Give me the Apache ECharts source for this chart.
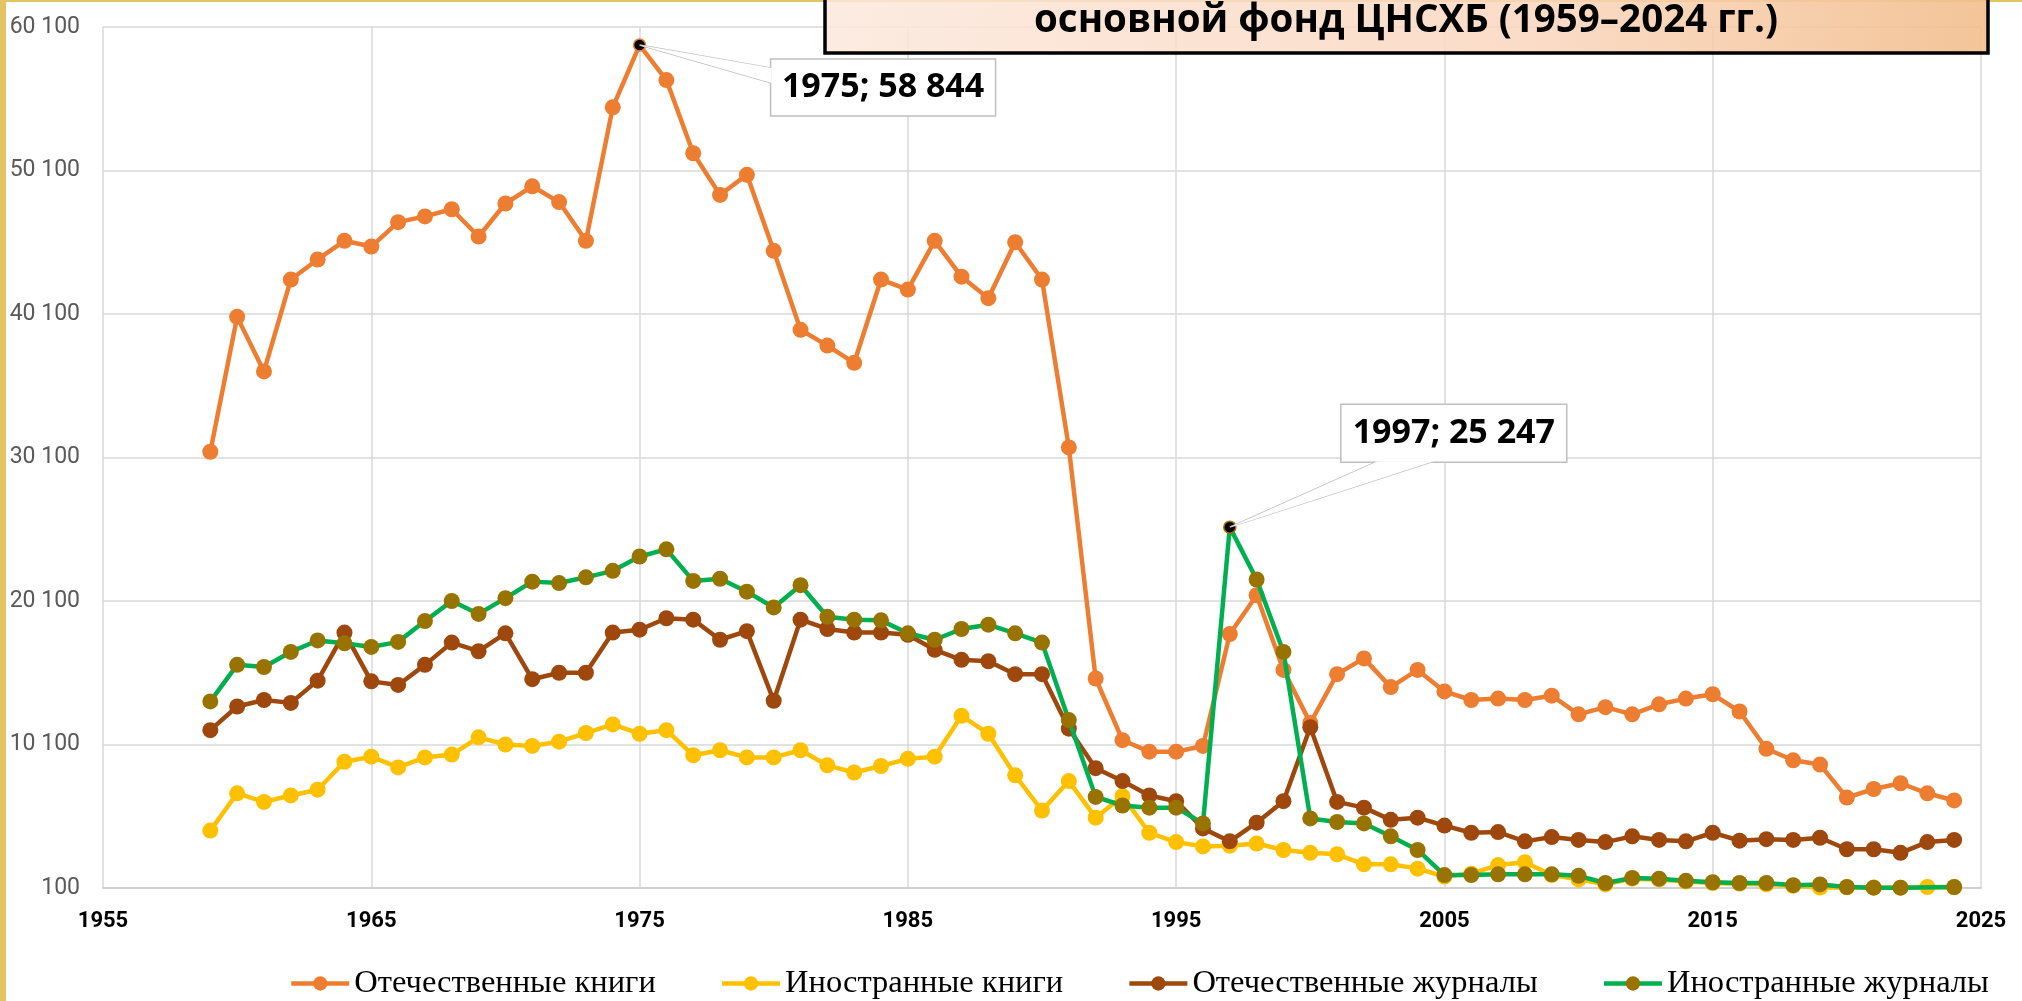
<!DOCTYPE html>
<html>
<head>
<meta charset="utf-8">
<script src="https://cdn.jsdelivr.net/npm/echarts@6/dist/echarts.min.js"></script>
<style>
  html, body { margin: 0; padding: 0; background: #fff; }
  #chart { width: 2022px; height: 1001px; }
</style>
</head>
<body>
<div id="chart"></div>
<script>
// годы 1959-2024
var years = [];
for (var y = 1959; y <= 2024; y++) years.push(y);

var seriesNames = ['Отечественные книги', 'Иностранные книги', 'Отечественные журналы', 'Иностранные журналы'];

var domBooks = [
    30500, 39900, 36100, 42500, 43900, 45200, 44800, 46500, 46900, 47400, 45500,
    47800, 49000, 47900, 45200, 54500, 58844, 56400, 51300, 48400, 49800,
    44500, 39000, 37900, 36700, 42500, 41800, 45200, 42700, 41200, 45100,
    42500, 30800, 14700, 10400, 9600, 9600, 10000, 17800, 20500, 15300,
    11600, 15000, 16100, 14100, 15300, 13800, 13200, 13300, 13200, 13500,
    12200, 12700, 12200, 12900, 13300, 13600, 12400, 9800, 9000, 8700,
    6400, 7000, 7400, 6700, 6200
];

var forBooks = [
    4100, 6700, 6100, 6550, 6950, 8900, 9250, 8500, 9200, 9400, 10600,
    10100, 10000, 10300, 10900, 11500, 10850, 11100, 9350, 9700, 9200,
    9200, 9700, 8650, 8150, 8600, 9100, 9250, 12100, 10850, 7950,
    5500, 7550, 5000, 6500, 3950, 3300, 3000, 3050, 3200, 2750,
    2550, 2450, 1750, 1750, 1450, 900, 1100, 1700, 1900, 1000,
    700, 350, 750, 700, 550, 450, 400, 350, 250, 130,
    150, 130, 120, 170, 150
];

var domJournals = [
    11100, 12750, 13200, 13000, 14550, 17900, 14500, 14250, 15650, 17200, 16600,
    17850, 14650, 15100, 15100, 17900, 18100, 18900, 18800, 17400, 18000,
    13150, 18800, 18150, 17900, 17900, 17750, 16700, 16000, 15900, 15000,
    15000, 11200, 8450, 7550, 6550, 6150, 4250, 3350, 4650, 6150,
    11300, 6100, 5700, 4850, 5000, 4450, 3950, 4000, 3350, 3650,
    3450, 3300, 3700, 3450, 3350, 3950, 3400, 3500, 3450, 3600,
    2800, 2800, 2550, 3300, 3450
];

// 2023 - нет значения
var forJournals = [
    13100, 15650, 15500, 16550, 17350, 17150, 16900, 17250, 18700, 20100, 19200,
    20300, 21450, 21350, 21750, 22200, 23200, 23700, 21500, 21650, 20750,
    19650, 21200, 19000, 18800, 18750, 17850, 17400, 18150, 18450, 17850,
    17200, 11800, 6450, 5850, 5700, 5700, 4600, 25247, 21600, 16550,
    4950, 4700, 4600, 3700, 2750, 1000, 1000, 1050, 1050, 1050,
    950, 450, 800, 750, 600, 500, 450, 450, 300, 350,
    170, 120, 120, null, 170
];

var xTicks = { min: 1955, max: 2025, step: 10 };
var yTicks = { min: 100, max: 60100, step: 10000 };

// выделенные точки с выносками
var callouts = [
    { year: 1975, series: 0, text: '1975; 58 844' },
    { year: 1997, series: 3, text: '1997; 25 247' }
];

var lineColors = ['#ED7D31', '#FFC000', '#9E480E', '#00B050'];
var markColors = ['#ED7D31', '#FFC000', '#9E480E', '#997300'];
var allData = [domBooks, forBooks, domJournals, forJournals];

function fmt(v) {
    return String(v).replace(/\B(?=(\d{3})+(?!\d))/g, ' ');
}

function makeData(idx) {
    var arr = allData[idx];
    return years.map(function (yr, i) {
        var item = { value: [yr, arr[i]] };
        callouts.forEach(function (c) {
            if (c.series === idx && c.year === yr) {
                item.itemStyle = { color: '#000', borderColor: markColors[idx], borderWidth: 1.5 };
                item.symbolSize = 12;
            }
        });
        return item;
    });
}

var myChart = echarts.init(document.getElementById('chart'));

var series = seriesNames.map(function (name, i) {
    return {
        name: name,
        type: 'line',
        data: makeData(i),
        connectNulls: true,
        symbol: 'circle',
        symbolSize: 16,
        showAllSymbol: true,
        lineStyle: { color: lineColors[i], width: 4.5 },
        itemStyle: { color: markColors[i] },
        emphasis: { disabled: true },
        z: 2 + i
    };
});

var option = {
    animation: false,
    backgroundColor: '#fff',
    grid: { left: 103, right: 41, top: 27, bottom: 113 },
    legend: {
        left: 284,
        top: 962,
        width: 1800,
        itemWidth: 58,
        itemHeight: 18,
        itemGap: 64,
        lineStyle: { width: 4.5 },
        textStyle: { fontFamily: 'Liberation Serif', fontSize: 32.5, color: '#000' },
        data: seriesNames
    },
    xAxis: {
        type: 'value',
        min: xTicks.min,
        max: xTicks.max,
        interval: xTicks.step,
        axisLine: { show: true, lineStyle: { color: '#d0d0d0', width: 2 } },
        axisTick: { show: false },
        splitLine: { show: true, lineStyle: { color: '#d9d9d9', width: 1.5 } },
        axisLabel: {
            fontFamily: 'Roboto', fontWeight: 'bold', fontSize: 22, color: '#000',
            margin: 22,
            formatter: function (v) { return String(v); }
        }
    },
    yAxis: {
        type: 'value',
        min: yTicks.min,
        max: yTicks.max,
        interval: yTicks.step,
        axisLine: { show: false },
        axisTick: { show: false },
        splitLine: { show: true, lineStyle: { color: '#d9d9d9', width: 1.5 } },
        axisLabel: {
            fontFamily: 'Roboto', fontSize: 23, color: '#595959', margin: 23,
            formatter: fmt
        }
    },
    series: series
};

myChart.setOption(option);

// рамка, заголовок и выноски
function buildGraphics() {
    var els = [];
    // золотая кромка слева и сверху
    els.push({ type: 'rect', shape: { x: 0, y: 0, width: 6, height: 1001 }, style: { fill: '#E3C465' }, z: 100 });
    els.push({ type: 'rect', shape: { x: 0, y: 0, width: 2022, height: 2 }, style: { fill: '#E3C465' }, z: 100 });

    // плашка заголовка
    els.push({
        type: 'rect',
        shape: { x: 825, y: -10, width: 1163, height: 63 },
        style: {
            fill: new echarts.graphic.LinearGradient(0, 0, 1, 1, [
                { offset: 0, color: 'rgba(252,232,220,0.85)' },
                { offset: 0.6, color: 'rgba(250,214,190,0.85)' },
                { offset: 1, color: 'rgba(242,190,140,0.9)' }
            ]),
            stroke: '#000',
            lineWidth: 3.5
        },
        z: 100
    });
    els.push({
        type: 'text',
        x: 1406, y: 21,
        style: {
            text: 'основной фонд ЦНСХБ (1959–2024 гг.)',
            fontFamily: 'Open Sans', fontWeight: 'bold', fontSize: 38.5,
            fill: '#000', align: 'center', verticalAlign: 'middle'
        },
        z: 101
    });

    callouts.forEach(function (c, k) {
        var i = years.indexOf(c.year);
        var p = myChart.convertToPixel({ gridIndex: 0 }, [c.year, allData[c.series][i]]);
        var bx, by, bw, bh, wedge;
        if (k === 0) {
            bx = p[0] + 131; by = p[1] + 14; bw = 225; bh = 57;
            wedge = [[p[0], p[1]], [bx + 1, by + 9], [bx + 1, by + 24]];
        } else {
            bx = p[0] + 111; by = p[1] - 123; bw = 226; bh = 58;
            wedge = [[p[0], p[1]], [bx + 37, by + bh - 1], [bx + 93, by + bh - 1]];
        }
        els.push({
            type: 'polygon', shape: { points: wedge },
            style: { fill: '#fff', stroke: '#bfbfbf', lineWidth: 1.5 }, z: 90
        });
        els.push({
            type: 'rect', shape: { x: bx, y: by, width: bw, height: bh },
            style: { fill: '#fff', stroke: '#bfbfbf', lineWidth: 1.5 }, z: 91
        });
        // перекрыть шов между выноской и рамкой
        els.push({
            type: 'polygon', shape: { points: wedge },
            style: { fill: '#fff', stroke: null }, z: 92
        });
        els.push({
            type: 'text', x: bx + bw / 2, y: by + bh / 2,
            style: {
                text: c.text, fontFamily: 'Open Sans', fontWeight: 'bold', fontSize: 34,
                fill: '#000', align: 'center', verticalAlign: 'middle'
            },
            z: 93
        });
    });
    return els;
}

myChart.setOption({ graphic: buildGraphics() });
</script>
</body>
</html>
